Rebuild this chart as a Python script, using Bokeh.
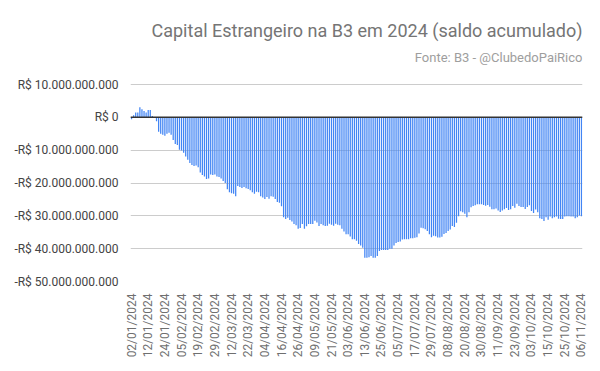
from bokeh.plotting import figure
from bokeh.models import ColumnDataSource, FixedTicker, Span, Label, Range1d
from bokeh.embed import file_html
from bokeh.resources import INLINE

# Saldo acumulado do capital estrangeiro na B3 (R$ bilhões), um valor por pregão
saldo_bi = [
    -0.6, 0.6, 1.5, 1.5, 3.1, 2.5, 1.9, 1.5, 2.2, 2.2,
    0.4, -0.1, -1.2, -4.4, -5.0, -5.3, -5.6, -5.0, -4.7, -5.3,
    -6.9, -8.1, -8.4, -9.9, -10.1, -10.8, -11.9, -12.9, -13.9, -14.5,
    -14.8, -14.7, -15.2, -16.8, -17.6, -18.0, -18.8, -18.6, -17.4, -17.6,
    -17.4, -18.0, -18.2, -18.6, -19.4, -20.0, -21.9, -22.8, -23.1, -23.3,
    -24.0, -20.9, -21.2, -21.5, -21.2, -21.6, -21.8, -22.2, -22.8, -23.3,
    -22.7, -22.8, -24.0, -24.4, -24.9, -24.3, -24.8, -24.0, -24.2, -24.9,
    -25.8, -26.0, -27.1, -30.4, -31.0, -30.6, -31.3, -31.7, -32.5, -32.9,
    -33.9, -33.7, -32.5, -33.9, -33.2, -32.5, -32.5, -32.5, -31.5, -32.0,
    -33.1, -32.5, -32.9, -33.1, -33.0, -32.4, -32.7, -33.0, -32.4, -32.7,
    -32.9, -33.9, -34.8, -35.6, -35.6, -36.3, -37.1, -37.1, -37.6, -38.6,
    -39.0, -39.7, -42.8, -42.8, -42.6, -42.2, -42.8, -42.8, -42.2, -40.7,
    -40.4, -40.4, -40.4, -40.4, -40.0, -40.0, -39.0, -38.3, -38.0, -37.8,
    -37.2, -37.1, -37.1, -37.1, -36.8, -36.8, -36.7, -36.5, -35.4, -33.6,
    -33.8, -34.1, -34.6, -35.6, -36.5, -36.1, -36.2, -36.6, -36.6, -36.4,
    -35.5, -35.2, -34.6, -34.2, -33.1, -33.4, -32.1, -30.1, -28.6, -28.9,
    -29.4, -30.4, -28.9, -27.4, -27.0, -26.8, -26.5, -26.5, -26.5, -26.7,
    -26.9, -26.7, -27.2, -28.0, -28.0, -27.8, -28.4, -28.8, -28.4, -28.0,
    -27.6, -28.2, -28.0, -27.0, -27.5, -26.3, -27.0, -27.3, -27.3, -27.9,
    -27.3, -26.8, -28.5, -29.1, -28.1, -28.9, -30.7, -31.0, -31.6, -30.4,
    -31.2, -30.2, -30.7, -30.4, -30.2, -30.9, -31.0, -31.0, -30.2, -30.1,
    -30.1, -30.2, -30.2, -30.7, -30.4, -29.9, -30.1,
]

# Rótulos do eixo X (um a cada 8 pregões)
x_tick_labels = [
    "02/01/2024", "12/01/2024", "24/01/2024", "05/02/2024", "19/02/2024",
    "29/02/2024", "12/03/2024", "22/03/2024", "04/04/2024", "16/04/2024",
    "26/04/2024", "09/05/2024", "21/05/2024", "03/06/2024", "13/06/2024",
    "25/06/2024", "05/07/2024", "17/07/2024", "29/07/2024", "08/08/2024",
    "20/08/2024", "30/08/2024", "11/09/2024", "23/09/2024", "03/10/2024",
    "15/10/2024", "25/10/2024", "06/11/2024",
]
x_tick_step = 8

y_tick_values = [10e9, 0, -10e9, -20e9, -30e9, -40e9, -50e9]
y_tick_labels = [
    "R$ 10.000.000.000", "R$ 0", "-R$ 10.000.000.000", "-R$ 20.000.000.000",
    "-R$ 30.000.000.000", "-R$ 40.000.000.000", "-R$ 50.000.000.000",
]

title_text = "Capital Estrangeiro na B3 em 2024 (saldo acumulado)"
subtitle_text = "Fonte: B3 - @ClubedoPaiRico"

FONT = "Roboto"
BLUE = "#4285F4"

# Geometria (pixels): área do gráfico de 10 bi a -50 bi ocupa 197 px,
# e a área livre acima (84 px) abriga o título dentro do mesmo quadro.
W, H = 600, 371
LEFT, RIGHT, BOTTOM = 130, 18, 90
AXIS_PX, TOP_PX = 197, 84
Y_MIN, Y_MAX = -50e9, 10e9
frame_h = H - BOTTOM
y_top = Y_MIN + (Y_MAX - Y_MIN) * frame_h / AXIS_PX
frame_w = W - LEFT - RIGHT

idx = list(range(len(saldo_bi)))
src = ColumnDataSource(dict(x=idx, top=[v * 1e9 for v in saldo_bi]))

p = figure(
    width=W, height=H,
    output_backend="svg", toolbar_location=None,
    x_range=Range1d(-0.5, len(saldo_bi) - 0.5),
    y_range=Range1d(Y_MIN, y_top),
    min_border_left=LEFT, min_border_right=RIGHT,
    min_border_top=0, min_border_bottom=BOTTOM,
)
p.outline_line_color = None
p.background_fill_color = "white"

p.vbar(x="x", top="top", bottom=0, width=0.6, source=src,
       fill_color=BLUE, line_color=None)

zero = Span(location=0, dimension="width", line_color="#333333", line_width=1.5)
p.add_layout(zero)

# Eixos
xticks = [i * x_tick_step for i in range(len(x_tick_labels))]
p.xaxis.ticker = FixedTicker(ticks=xticks)
p.xaxis.major_label_overrides = {t: lab for t, lab in zip(xticks, x_tick_labels)}
p.xaxis.major_label_orientation = 3.14159265 / 2
p.xaxis.axis_line_color = None
p.xaxis.major_tick_line_color = None
p.xaxis.minor_tick_line_color = None
p.xaxis.major_label_text_font = FONT
p.xaxis.major_label_text_font_size = "12px"
p.xaxis.major_label_text_color = "#6f6f6f"
p.xaxis.major_label_standoff = 6

p.yaxis.ticker = FixedTicker(ticks=y_tick_values)
p.yaxis.major_label_overrides = {t: lab for t, lab in zip(y_tick_values, y_tick_labels)}
p.yaxis.axis_line_color = None
p.yaxis.major_tick_line_color = None
p.yaxis.minor_tick_line_color = None
p.yaxis.major_label_text_font = FONT
p.yaxis.major_label_text_font_size = "12px"
p.yaxis.major_label_text_color = "#444444"
p.yaxis.major_label_standoff = 6

p.xgrid.grid_line_color = None
p.ygrid.grid_line_color = "#cccccc"
p.ygrid.grid_line_width = 1

# Títulos (coordenadas de tela a partir do canto inferior esquerdo do quadro)
p.add_layout(Label(x=frame_w, y=frame_h - 30, x_units="screen", y_units="screen",
                   text=title_text, text_align="right", text_baseline="middle",
                   text_font=FONT, text_font_size="18px", text_color="#757575"))
p.add_layout(Label(x=frame_w, y=frame_h - 57, x_units="screen", y_units="screen",
                   text=subtitle_text, text_align="right", text_baseline="middle",
                   text_font=FONT, text_font_size="13px", text_color="#9e9e9e"))

open("out.html", "w").write(file_html(p, INLINE))
